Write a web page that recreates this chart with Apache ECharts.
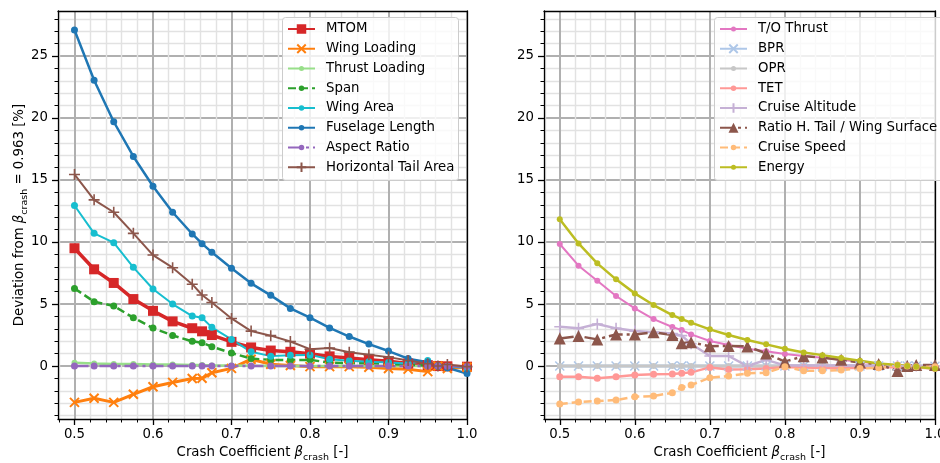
<!DOCTYPE html>
<html><head><meta charset="utf-8">
<script src="https://cdn.jsdelivr.net/npm/echarts@6/dist/echarts.min.js"></script>
<style>html,body{margin:0;padding:0;background:#fff}#c{width:940px;height:463px}</style>
</head><body><div id="c"></div>
<script>
// x positions (crash coefficient)
const beta = [0.5,0.525,0.55,0.575,0.6,0.625,0.65,0.6625,0.675,0.7,0.725,0.75,0.775,0.8,0.825,0.85,0.875,0.9,0.925,0.95,0.963,0.975,1.0];

// tick labels
const xTicks = [0.5, 0.6, 0.7, 0.8, 0.9, 1.0];
const yTicks = [0, 5, 10, 15, 20, 25];

// left panel series
const mtom          = [9.5,7.8,6.7,5.4,4.45,3.6,3.05,2.8,2.5,1.95,1.5,1.25,1.15,1.0,0.78,0.65,0.5,0.38,0.2,0.08,0.0,-0.02,-0.05];
const wingLoading   = [-2.93,-2.6,-2.93,-2.28,-1.67,-1.32,-1.0,-0.99,-0.54,-0.19,0.55,0.15,0.05,-0.05,-0.05,-0.05,-0.1,-0.2,-0.25,-0.45,0.0,-0.2,-0.1];
const thrustLoading = [0.27,0.21,0.16,0.16,0.13,0.13,0.08,0.08,0.05,0.05,0.03,0.0,0.0,0.0,0.0,0.0,0.0,0.0,0.0,0.0,0.0,-0.03,-0.08];
const span          = [6.26,5.19,4.84,3.9,3.06,2.47,1.99,1.88,1.56,1.05,0.6,0.5,0.48,0.5,0.28,0.24,0.22,0.18,0.1,0.05,0.0,-0.04,-0.06];
const wingArea      = [12.95,10.7,9.95,7.96,6.21,5.0,4.03,3.9,3.12,2.15,1.15,0.8,0.88,0.9,0.55,0.43,0.35,0.29,0.2,0.45,0.0,-0.02,-0.15];
const fuselage      = [27.1,23.05,19.7,16.9,14.5,12.4,10.65,9.87,9.17,7.88,6.67,5.7,4.65,3.9,3.07,2.38,1.77,1.21,0.6,0.3,0.0,-0.15,-0.6];
const aspectRatio   = [0.0,0.0,0.0,0.0,0.0,0.0,0.0,0.0,0.0,0.0,0.0,0.0,0.0,0.0,0.0,0.0,0.0,0.0,0.0,0.0,0.0,-0.02,-0.04];
const hTailArea     = [15.45,13.4,12.4,10.7,8.95,7.93,6.6,5.73,5.13,3.84,2.82,2.45,1.98,1.36,1.45,1.12,0.92,0.72,0.45,0.18,0.0,0.12,-0.05];

// right panel series
const toThrust      = [9.84,8.09,6.88,5.65,4.65,3.79,3.15,2.9,2.55,2.02,1.69,1.4,1.2,0.97,0.81,0.67,0.5,0.35,0.18,0.05,0.0,-0.05,-0.2];
const bpr           = [0.0,0.0,0.0,0.0,0.0,0.0,0.0,0.0,0.0,0.0,0.0,0.0,0.0,0.0,0.0,0.0,0.0,0.0,0.0,0.0,0.0,0.0,-0.02];
const opr           = [0.0,0.0,0.0,0.0,0.0,0.0,0.0,0.0,0.0,0.0,0.0,0.0,0.0,0.0,0.0,0.0,0.0,0.0,0.0,0.0,0.0,0.0,-0.02];
const tet           = [-0.86,-0.86,-0.99,-0.86,-0.73,-0.67,-0.65,-0.59,-0.51,-0.11,-0.27,-0.25,-0.2,-0.08,-0.12,-0.15,-0.15,-0.15,-0.12,-0.08,0.0,-0.12,-0.2];
const cruiseAlt     = [3.17,3.04,3.39,3.04,2.82,2.72,2.63,2.45,1.8,0.81,0.81,0.0,0.5,0.05,0.05,0.05,0.05,0.05,0.03,0.02,0.0,0.0,0.0];
const ratioHTail    = [2.23,2.42,2.15,2.55,2.55,2.72,2.5,1.83,1.91,1.6,1.62,1.58,1.02,0.35,0.8,0.68,0.5,0.28,0.16,-0.4,0.0,0.08,0.08];
const cruiseSpeed   = [-3.06,-2.9,-2.82,-2.74,-2.47,-2.42,-2.15,-1.72,-1.53,-0.94,-0.81,-0.59,-0.54,-0.05,-0.38,-0.38,-0.32,-0.19,-0.14,0.08,0.0,-0.05,-0.05];
const energy        = [11.83,9.89,8.28,6.99,5.86,4.92,4.11,3.79,3.5,2.96,2.5,2.1,1.75,1.4,1.1,0.88,0.65,0.42,0.21,0.08,0.0,-0.05,-0.22];

const leftNames  = ['MTOM','Wing Loading','Thrust Loading','Span','Wing Area','Fuselage Length','Aspect Ratio','Horizontal Tail Area'];
const rightNames = ['T/O Thrust','BPR','OPR','TET','Cruise Altitude','Ratio H. Tail / Wing Surface','Cruise Speed','Energy'];

const FONT = 'DejaVu Sans';
const FS = 13.3;

const X_PATH = 'path://M0,0L10,10M10,0L0,10';
const PLUS_PATH = 'path://M5,0L5,10M0,5L10,5';

// style per series: color, symbol, plot marker size, legend marker size, line width, dash
const styles = {
  'MTOM':                 { color: '#d62728', symbol: 'rect', size: 10, lsize: 9.5, width: 3.5 },
  'Wing Loading':         { color: '#ff7f0e', symbol: X_PATH, size: 9, lsize: 8.5, width: 3, bw: 2 },
  'Thrust Loading':       { color: '#98df8a', size: 6, lsize: 5, width: 2.5 },
  'Span':                 { color: '#2ca02c', size: 7, lsize: 5.5, width: 2.5, dash: [8, 4] },
  'Wing Area':            { color: '#17becf', size: 7, lsize: 5.5, width: 2 },
  'Fuselage Length':      { color: '#1f77b4', size: 7, lsize: 5.5, width: 2.5 },
  'Aspect Ratio':         { color: '#9467bd', size: 7, lsize: 5.5, width: 2.5, dash: [14, 4, 3, 4] },
  'Horizontal Tail Area': { color: '#8c564b', symbol: PLUS_PATH, size: 11, lsize: 9.5, width: 2, bw: 1.6 },
  'T/O Thrust':           { color: '#e377c2', size: 6, lsize: 5, width: 2 },
  'BPR':                  { color: '#aec7e8', symbol: X_PATH, size: 9, lsize: 8.5, width: 3, bw: 1.5 },
  'OPR':                  { color: '#c7c7c7', size: 6, lsize: 5, width: 3 },
  'TET':                  { color: '#ff9896', size: 7, lsize: 5.5, width: 2.5 },
  'Cruise Altitude':      { color: '#c5b0d5', symbol: PLUS_PATH, size: 11, lsize: 9.5, width: 2.5, bw: 1.6 },
  'Ratio H. Tail / Wing Surface': { color: '#8c564b', symbol: 'triangle', size: 12, lsize: 10, width: 2.5, dash: [14, 4, 3, 4] },
  'Cruise Speed':         { color: '#ffbb78', size: 7, lsize: 5.5, width: 2.5, dash: [8, 4] },
  'Energy':               { color: '#bcbd22', size: 6, lsize: 5, width: 2.5 }
};

function mk(name, vals, g) {
  const o = styles[name];
  const stroke = (o.symbol === X_PATH || o.symbol === PLUS_PATH);
  return {
    type: 'line', name: name, xAxisIndex: g, yAxisIndex: g,
    data: beta.map((b, i) => [b, vals[i]]),
    symbol: o.symbol || 'circle', symbolSize: o.size || 7,
    showAllSymbol: true,
    lineStyle: { color: o.color, width: o.width || 2.5, type: o.dash || 'solid' },
    itemStyle: stroke ? { color: 'rgba(0,0,0,0)', borderColor: o.color, borderWidth: o.bw || 2 } : { color: o.color, borderWidth: 0 },
    emphasis: { disabled: true },
    animation: false, silent: true
  };
}

const series = [
  mk('MTOM', mtom, 0), mk('Wing Loading', wingLoading, 0), mk('Thrust Loading', thrustLoading, 0),
  mk('Span', span, 0), mk('Wing Area', wingArea, 0), mk('Fuselage Length', fuselage, 0),
  mk('Aspect Ratio', aspectRatio, 0), mk('Horizontal Tail Area', hTailArea, 0),
  mk('T/O Thrust', toThrust, 1), mk('BPR', bpr, 1), mk('OPR', opr, 1), mk('TET', tet, 1),
  mk('Cruise Altitude', cruiseAlt, 1), mk('Ratio H. Tail / Wing Surface', ratioHTail, 1),
  mk('Cruise Speed', cruiseSpeed, 1), mk('Energy', energy, 1)
];

const XMIN = 0.479, XMAX = 1.0, YMIN = -4.27, YMAX = 28.63;

const nameRich = {
  t: { fontFamily: FONT, fontSize: FS, color: '#000', lineHeight: 20, verticalAlign: 'middle' },
  b: { fontFamily: FONT, fontSize: FS, fontStyle: 'italic', color: '#000', lineHeight: 20, verticalAlign: 'middle' },
  s: { fontFamily: FONT, fontSize: 9.5, color: '#000', lineHeight: 11, verticalAlign: 'bottom' }
};

function xAx(g) {
  return {
    gridIndex: g, type: 'value', min: XMIN, max: XMAX, splitNumber: 5,
    axisLine: { show: true, onZero: false, lineStyle: { color: '#000', width: 1.3 } },
    axisTick: { show: true, length: 6, customValues: xTicks, lineStyle: { color: '#000', width: 1.3 } },
    minorTick: { show: true, splitNumber: 5, length: 3.5, lineStyle: { color: '#000', width: 1 } },
    splitLine: { show: true, lineStyle: { color: '#b0b0b0', width: 2 } },
    minorSplitLine: { show: true, lineStyle: { color: '#e2e2e2', width: 1.4 } },
    axisLabel: { color: '#000', fontFamily: FONT, fontSize: FS, margin: 9, customValues: xTicks,
      formatter: v => v.toFixed(1) },
    name: '{t|Crash Coefficient }{b|β}{s|crash}{t| [-]}', nameLocation: 'middle', nameGap: 24,
    nameMoveOverlap: false,
    nameTextStyle: { rich: nameRich }
  };
}
function yAx(g, withName) {
  const o = {
    gridIndex: g, type: 'value', min: YMIN, max: YMAX, splitNumber: 6,
    axisLine: { show: true, onZero: false, lineStyle: { color: '#000', width: 1.3 } },
    axisTick: { show: true, length: 6, customValues: yTicks, lineStyle: { color: '#000', width: 1.3 } },
    minorTick: { show: true, splitNumber: 5, length: 3.5, lineStyle: { color: '#000', width: 1 } },
    splitLine: { show: true, lineStyle: { color: '#b0b0b0', width: 2 } },
    minorSplitLine: { show: true, lineStyle: { color: '#e2e2e2', width: 1.4 } },
    axisLabel: { color: '#000', fontFamily: FONT, fontSize: FS, margin: 10, customValues: yTicks,
      formatter: v => String(Math.round(v)) }
  };
  if (withName) {
    o.name = '{t|Deviation from }{b|β}{s|crash}{t| = 0.963 [%]}';
    o.nameLocation = 'middle'; o.nameGap = 28; o.nameRotate = 90;
    o.nameMoveOverlap = false;
    o.nameTextStyle = { rich: nameRich };
  }
  return o;
}
function frameX(g) {
  return { gridIndex: g, type: 'value', min: XMIN, max: XMAX, position: 'top',
    axisLine: { show: true, onZero: false, lineStyle: { color: '#000', width: 1.3 } },
    axisTick: { show: false }, axisLabel: { show: false }, splitLine: { show: false } };
}
function frameY(g) {
  return { gridIndex: g, type: 'value', min: YMIN, max: YMAX, position: 'right',
    axisLine: { show: true, onZero: false, lineStyle: { color: '#000', width: 1.3 } },
    axisTick: { show: false }, axisLabel: { show: false }, splitLine: { show: false } };
}

// one legend component per entry so each marker keeps its own size
const ROW0 = 29, ROWSTEP = 19.75, TEXT_H = 16;
function legends(names, left) {
  return names.map((n, i) => {
    const s = styles[n];
    const ih = s.lsize / 0.8;
    return {
      orient: 'vertical', left: left, top: ROW0 + i * ROWSTEP - Math.max(ih, TEXT_H) / 2,
      padding: 0, itemWidth: 27, itemHeight: ih, itemGap: 0,
      textStyle: { fontFamily: FONT, fontSize: FS, color: '#000', lineHeight: TEXT_H, padding: [0, 0, 0, 6] },
      selectedMode: false, z: 5,
      data: [n]
    };
  });
}

const chart = echarts.init(document.getElementById('c'), null, { renderer: 'canvas' });
chart.setOption({
  animation: false,
  grid: [
    { left: 58, right: 940 - 467, top: 11, bottom: 463 - 419, containLabel: false, outerBoundsMode: 'none' },
    { left: 544, right: 940 - 935, top: 11, bottom: 463 - 419, containLabel: false, outerBoundsMode: 'none' }
  ],
  xAxis: [xAx(0), xAx(1), frameX(0), frameX(1)],
  yAxis: [yAx(0, true), yAx(1, false), frameY(0), frameY(1)],
  legend: legends(leftNames, 287).concat(legends(rightNames, 719)),
  graphic: [
    { type: 'rect', left: 282, top: 17, z: 3, silent: true,
      shape: { width: 176, height: 163, r: 3 },
      style: { fill: 'rgba(255,255,255,0.8)', stroke: '#cccccc', lineWidth: 1 } },
    { type: 'rect', left: 714, top: 17, z: 3, silent: true,
      shape: { width: 240, height: 163, r: 3 },
      style: { fill: 'rgba(255,255,255,0.8)', stroke: '#cccccc', lineWidth: 1 } }
  ],
  series: series
});
</script>
</body></html>
